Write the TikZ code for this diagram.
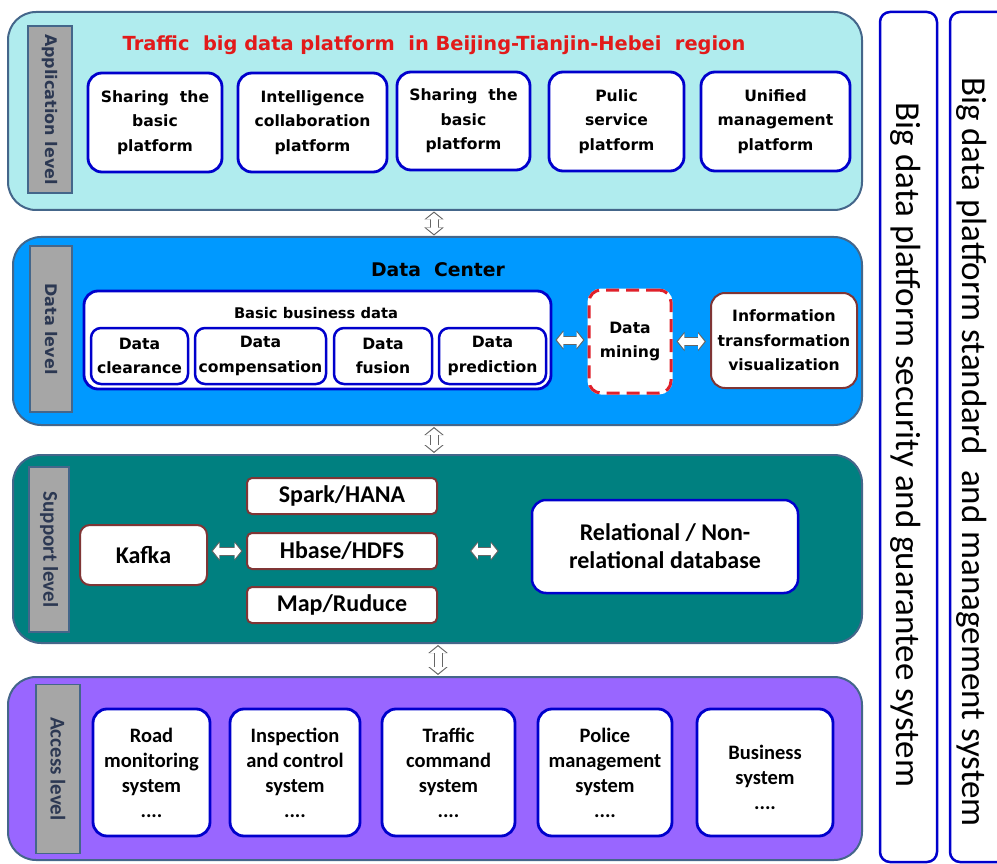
\documentclass[tikz,border=0pt]{standalone}
\usepackage{fontspec}
\setmainfont{DejaVu Sans}
\newfontfamily\calfont{Carlito}
\usetikzlibrary{arrows.meta}
\definecolor{appfill}{HTML}{B0ECEE}
\definecolor{datafill}{HTML}{0099FF}
\definecolor{supfill}{HTML}{008080}
\definecolor{accfill}{HTML}{9966FF}
\definecolor{layerline}{HTML}{44668A}
\definecolor{barfill}{HTML}{A6A6A6}
\definecolor{leveltext}{HTML}{2C3852}
\definecolor{boxblue}{HTML}{0000CC}
\definecolor{boxbrown}{HTML}{7F3535}
\definecolor{minered}{HTML}{E0202A}
\definecolor{titlered}{HTML}{E21A1A}
\definecolor{arrowline}{HTML}{666666}
\begin{document}
\begin{tikzpicture}[x=1pt,y=-1pt,
  layer/.style={draw=layerline,line width=2pt,rounded corners=28pt,inner sep=0pt},
  levelbar/.style={draw=layerline,fill=barfill,line width=1.5pt,rotate=-90,inner sep=0pt,text=leveltext},
  bluebox/.style={draw=boxblue,fill=white,line width=2.8pt,rounded corners=14pt,align=center,inner sep=0pt},
  brownbox/.style={draw=boxbrown,fill=white,line width=2pt,rounded corners=10pt,align=center,inner sep=0pt},
  sidebar/.style={draw=boxblue,fill=white,line width=2.5pt,rounded corners=10pt,rotate=-90,inner sep=0pt,minimum width=850pt},
  sidetext/.style={rotate=-90,font=\calfont\fontsize{35}{36}\selectfont},
  appfont/.style={font=\bfseries\fontsize{15.6}{24.5}\selectfont},
  calfont/.style={font=\calfont\bfseries\fontsize{20.5}{25}\selectfont},
  supfont/.style={font=\calfont\bfseries\fontsize{24}{28}\selectfont},
  arrowout/.style={draw=arrowline,line width=9pt,{Triangle[length=8pt,width=19pt]}-{Triangle[length=8pt,width=19pt]}},
  arrowin/.style={draw=white,line width=7pt,{Triangle[length=6.4pt,width=15.6pt]}-{Triangle[length=6.4pt,width=15.6pt]}}]
\useasboundingbox (0,0) rectangle (997,864);
\node[layer,fill=appfill,minimum width=854pt,minimum height=198pt] (app) at (435,111) {};
\node[layer,fill=datafill,minimum width=849pt,minimum height=188pt] (data) at (437.5,331) {};
\node[layer,fill=supfill,minimum width=849pt,minimum height=188pt] (sup) at (437.5,549) {};
\node[layer,fill=accfill,minimum width=854pt,minimum height=183pt] (acc) at (435,768.5) {};
\node[levelbar,minimum width=167pt,minimum height=44pt,font=\bfseries\fontsize{16}{18}\selectfont] (applevel) at (50,109.5) {Application level};
\node[levelbar,minimum width=166pt,minimum height=42pt,font=\bfseries\fontsize{16}{18}\selectfont] (datalevel) at (51,329) {Data level};
\node[levelbar,minimum width=165pt,minimum height=40pt,font=\calfont\bfseries\fontsize{21}{22}\selectfont] (suplevel) at (49,549.5) {Support level};
\node[levelbar,minimum width=169pt,minimum height=44pt,font=\calfont\bfseries\fontsize{21}{22}\selectfont] (acclevel) at (58,769) {Access level};
\node[text=titlered,font=\bfseries\fontsize{19.4}{22}\selectfont] (title) at (434,45) {Traffic\ \ big data platform\ \ in Beijing-Tianjin-Hebei\ \ region};
\node[bluebox,appfont,minimum width=134pt,minimum height=99pt] (share1) at (155,122.5) {Sharing\ \ the\\basic\\platform};
\node[bluebox,appfont,minimum width=149pt,minimum height=99pt] (intel) at (312.5,122.5) {Intelligence\\collaboration\\platform};
\node[bluebox,appfont,minimum width=133pt,minimum height=98pt] (share2) at (463.5,121) {Sharing\ \ the\\basic\\platform};
\node[bluebox,appfont,minimum width=135pt,minimum height=99pt] (public) at (616.5,121.5) {Pulic\\service\\platform};
\node[bluebox,appfont,minimum width=149pt,minimum height=99pt] (unified) at (775.5,121.5) {Unified\\management\\platform};
\node[font=\bfseries\fontsize{18.8}{20}\selectfont] (center) at (438,270) {Data\ \ Center};
\node[bluebox,minimum width=467pt,minimum height=98pt] (bbd) at (317.5,340) {};
\node[font=\bfseries\fontsize{14.7}{16}\selectfont] (bbdlabel) at (316,313) {Basic business data};
\node[bluebox,appfont,line width=2.5pt,rounded corners=10pt,minimum width=97pt,minimum height=56pt] (clear) at (139.5,356) {Data\\clearance};
\node[bluebox,appfont,line width=2.5pt,rounded corners=10pt,minimum width=131pt,minimum height=56pt] (comp) at (260.5,356) {Data\\compensation};
\node[bluebox,appfont,line width=2.5pt,rounded corners=10pt,minimum width=98pt,minimum height=56pt] (fusion) at (383,356) {Data\\fusion};
\node[bluebox,appfont,line width=2.5pt,rounded corners=10pt,minimum width=107pt,minimum height=56pt] (pred) at (492.5,356) {Data\\prediction};
\node[draw=minered,fill=white,line width=3pt,dash pattern=on 13pt off 7pt,preaction={draw=white,solid},rounded corners=12pt,align=center,inner sep=0pt,appfont,minimum width=82pt,minimum height=103pt] (mining) at (630,341.5) {Data\\mining};
\node[brownbox,appfont,rounded corners=14pt,minimum width=146pt,minimum height=95pt] (info) at (784,340.5) {Information\\transformation\\visualization};
\node[brownbox,supfont,minimum width=127pt,minimum height=60pt] (kafka) at (143.5,555) {Kafka};
\node[brownbox,supfont,rounded corners=5pt,minimum width=190pt,minimum height=36pt] (spark) at (342,496) {Spark/HANA};
\node[brownbox,supfont,rounded corners=5pt,minimum width=190pt,minimum height=36pt] (hbase) at (342,551) {Hbase/HDFS};
\node[brownbox,supfont,rounded corners=5pt,minimum width=190pt,minimum height=36pt] (mapred) at (342,605) {Map/Ruduce};
\node[bluebox,supfont,line width=2.5pt,minimum width=266pt,minimum height=93pt] (rdb) at (665,546.5) {Relational / Non-\\relational database};
\node[bluebox,calfont,minimum width=117pt,minimum height=127pt] (road) at (151.5,772.5) {Road\\monitoring\\system\\....};
\node[bluebox,calfont,minimum width=130pt,minimum height=127pt] (insp) at (295,772.5) {Inspection\\and control\\system\\....};
\node[bluebox,calfont,minimum width=133pt,minimum height=127pt] (cmd) at (448.5,772.5) {Traffic\\command\\system\\....};
\node[bluebox,calfont,minimum width=134pt,minimum height=127pt] (police) at (605,772.5) {Police\\management\\system\\....};
\node[bluebox,calfont,minimum width=136pt,minimum height=127pt] (biz) at (765,772.5) {\mbox{}\\Business\\system\\....};
\node[sidebar,minimum height=57pt] (security) at (908.5,437) {};
\node[sidebar,minimum height=60pt] (standard) at (980,437) {};
\node[sidetext] (securitytext) at (906,445) {Big data platform security and guarantee system};
\node[sidetext] (standardtext) at (972,452) {Big data platform standard\ \ and management system};
\draw[arrowout,shorten <=0.5pt,shorten >=0.5pt] (app.south -| title.south) -- (data.north -| title.south);
\draw[arrowin,shorten <=2pt,shorten >=2pt] (app.south -| title.south) -- (data.north -| title.south);
\draw[arrowout,shorten <=1pt,shorten >=1pt] (data.south -| title.south) -- (sup.north -| title.south);
\draw[arrowin,shorten <=2.5pt,shorten >=2.5pt] (data.south -| title.south) -- (sup.north -| title.south);
\draw[arrowout,shorten <=1pt,shorten >=1pt] (sup.south -| spark.east) -- (acc.north -| spark.east);
\draw[arrowin,shorten <=2.5pt,shorten >=2.5pt] (sup.south -| spark.east) -- (acc.north -| spark.east);
\draw[arrowout,shorten <=3pt,shorten >=3pt] (bbd.east) -- (bbd.east -| mining.west);
\draw[arrowin,shorten <=4.5pt,shorten >=4.5pt] (bbd.east) -- (bbd.east -| mining.west);
\draw[arrowout,shorten <=4pt,shorten >=4pt] (mining.east) -- (mining.east -| info.west);
\draw[arrowin,shorten <=5.5pt,shorten >=5.5pt] (mining.east) -- (mining.east -| info.west);
\draw[arrowout,shorten <=3.5pt,shorten >=3.5pt] (hbase.west -| kafka.east) -- (hbase.west);
\draw[arrowin,shorten <=5pt,shorten >=5pt] (hbase.west -| kafka.east) -- (hbase.west);
\draw[arrowout,shorten <=32pt,shorten >=32pt] (hbase.east) -- (hbase.east -| rdb.west);
\draw[arrowin,shorten <=33.5pt,shorten >=33.5pt] (hbase.east) -- (hbase.east -| rdb.west);
\end{tikzpicture}
\end{document}
